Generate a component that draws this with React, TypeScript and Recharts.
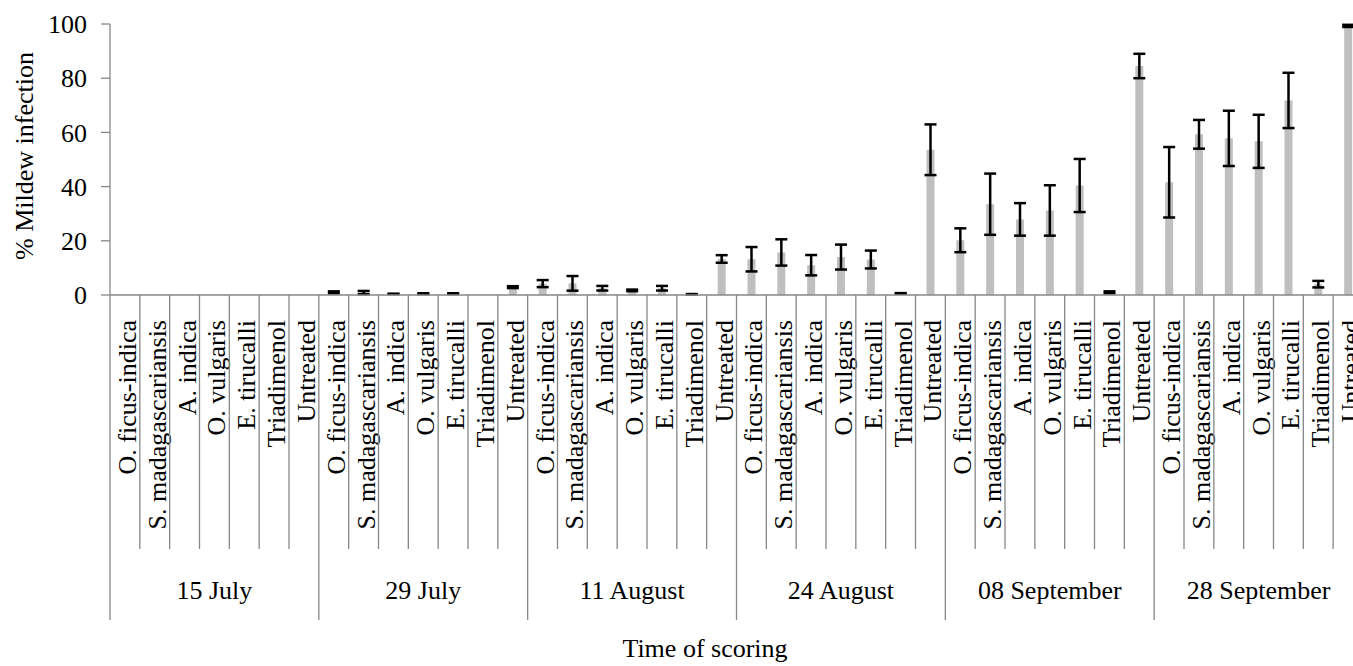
import React from 'react';
import { BarChart, Bar, XAxis, YAxis, ErrorBar, Customized } from 'recharts';

// Treatments scored on each date, and the scoring dates themselves
const treatments = [
  'O. ficus-indica',
  'S. madagascariansis',
  'A. indica',
  'O. vulgaris',
  'E. tirucalli',
  'Triadimenol',
  'Untreated',
];
const scoringDates = ['15 July', '29 July', '11 August', '24 August', '08 September', '28 September'];

// Mean % mildew infection per treatment (order as in `treatments`)
const meanJul15 = [0, 0, 0, 0, 0, 0, 0];
const meanJul29 = [1.0, 0.9, 0.4, 0.5, 0.5, 0, 2.9];
const meanAug11 = [4.2, 4.3, 2.5, 1.7, 2.5, 0.3, 13.3];
const meanAug24 = [13.2, 15.7, 11.0, 14.0, 13.1, 0.6, 53.6];
const meanSep08 = [20.2, 33.5, 27.9, 31.2, 40.4, 1.0, 84.5];
const meanSep28 = [41.6, 59.3, 57.8, 56.7, 71.8, 4.0, 99.3];

// Standard error of each mean
const errJul15 = [0, 0, 0, 0, 0, 0, 0];
const errJul29 = [0.35, 0.6, 0.05, 0.15, 0.15, 0, 0.35];
const errAug11 = [1.3, 2.7, 0.85, 0.3, 0.85, 0.05, 1.4];
const errAug24 = [4.5, 4.85, 3.75, 4.6, 3.3, 0.1, 9.35];
const errSep08 = [4.4, 11.3, 6.0, 9.3, 9.8, 0.35, 4.5];
const errSep28 = [13.0, 5.3, 10.2, 9.8, 10.2, 1.2, 0.4];

const yTicks = [0, 20, 40, 60, 80, 100];

const meansByDate = [meanJul15, meanJul29, meanAug11, meanAug24, meanSep08, meanSep28];
const errsByDate = [errJul15, errJul29, errAug11, errAug24, errSep08, errSep28];

const data = scoringDates.flatMap((date, g) =>
  treatments.map((treatment, k) => ({
    id: `${g}-${k}`,
    date,
    treatment,
    mean: meansByDate[g][k],
    err: errsByDate[g][k],
  }))
);

const FONT = '"Liberation Serif", "Times New Roman", serif';
const AXIS = '#878787';
const BAR = '#bfbfbf';
const FS = 26;

// Two-level category axis: treatment names (rotated) and scoring dates below,
// with separator lines on the category boundaries.
const renderCategoryTick = (props: any) => {
  const { x, y, payload, index } = props;
  const half = payload && typeof payload.offset === 'number' && payload.offset > 0 ? payload.offset : 14.92;
  const k = index % treatments.length;
  const g = Math.floor(index / treatments.length);
  const left = x - half;
  const right = x + half;
  const labelTop = y + 25;
  return (
    <g>
      <line
        x1={left}
        x2={left}
        y1={y}
        y2={y + (k === 0 ? 325 : 254)}
        stroke={AXIS}
        strokeWidth={1.3}
      />
      {index === data.length - 1 && (
        <line x1={right} x2={right} y1={y} y2={y + 325} stroke={AXIS} strokeWidth={1.3} />
      )}
      <text
        x={x}
        y={labelTop}
        dy={11}
        transform={`rotate(-90 ${x} ${labelTop})`}
        textAnchor="end"
        fontSize={FS}
        fontFamily={FONT}
        fill="#000"
      >
        {treatments[k]}
      </text>
      {k === 3 && (
        <text x={x} y={y + 304} textAnchor="middle" fontSize={FS} fontFamily={FONT} fill="#000">
          {scoringDates[g]}
        </text>
      )}
    </g>
  );
};

const AxisTitles = () => (
  <g fontFamily={FONT} fontSize={FS} fill="#000">
    <text x={25} y={148} textAnchor="middle" transform="rotate(-90 25 148)">
      % Mildew infection
    </text>
    <text x={697} y={648.7} textAnchor="middle">
      Time of scoring
    </text>
  </g>
);

export default function App() {
  return (
    <div
      style={{
        position: 'absolute',
        left: 8,
        top: 8,
        width: 1345,
        height: 658,
        overflow: 'hidden',
        fontFamily: FONT,
        background: '#fff',
      }}
    >
      <BarChart
        width={1355}
        height={658}
        data={data}
        margin={{ top: 16, right: 0, bottom: 0, left: 0 }}
      >
        <XAxis
          dataKey="id"
          height={371}
          interval={0}
          tickLine={false}
          tickSize={0}
          tickMargin={0}
          axisLine={{ stroke: AXIS, strokeWidth: 1.3 }}
          tick={renderCategoryTick}
        />
        <YAxis
          width={102}
          domain={[0, 100]}
          ticks={yTicks}
          interval={0}
          tickSize={9}
          tickMargin={14}
          axisLine={{ stroke: AXIS, strokeWidth: 1.3 }}
          tickLine={{ stroke: AXIS, strokeWidth: 1.3 }}
          tick={{ fontSize: FS, fill: '#000', fontFamily: FONT }}
        />
        <Bar dataKey="mean" fill={BAR} barSize={8} isAnimationActive={false}>
          <ErrorBar
            dataKey="err"
            direction="y"
            width={6}
            stroke="#000"
            strokeWidth={2.5}
            isAnimationActive={false}
          />
        </Bar>
        <Customized component={AxisTitles} />
      </BarChart>
    </div>
  );
}
